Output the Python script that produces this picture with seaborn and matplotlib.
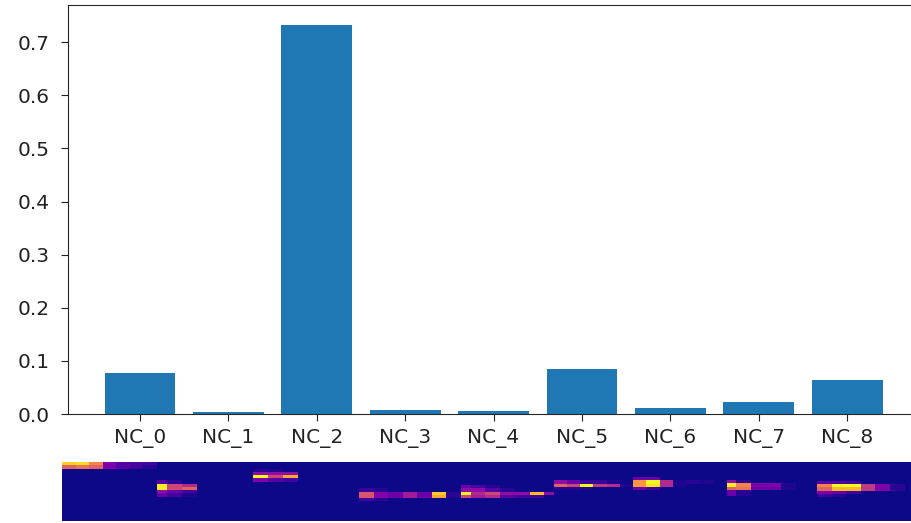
import numpy as np
import pandas as pd
import seaborn as sns
import matplotlib.pyplot as plt

W, H = 912, 523

components = ['NC_0', 'NC_1', 'NC_2', 'NC_3', 'NC_4', 'NC_5', 'NC_6', 'NC_7', 'NC_8']
weights = [0.077, 0.004, 0.732, 0.007, 0.005, 0.085, 0.012, 0.022, 0.064]
y_ticks = [0.0, 0.1, 0.2, 0.3, 0.4, 0.5, 0.6, 0.7]

# component spectrograms, {row: values per column}, everything else is zero
spec_0 = {0: [0.90, 0.93, 0.70, 0.25, 0.15, 0.12, 0.10],
          1: [0.60, 0.65, 0.60, 0.25, 0.15, 0.10, 0.05]}
spec_1 = {6: [0.15, 0.05],
          7: [0.97, 0.50, 0.40],
          8: [0.97, 0.50, 0.60],
          9: [0.30, 0.20, 0.10],
          10: [0.20, 0.10, 0.03]}
spec_2 = {2: [0.05, 0.03],
          3: [0.30, 0.30, 0.30],
          4: [1.00, 0.50, 0.80],
          5: [0.25, 0.15, 0.10]}
spec_3 = {8: [0.08, 0.05],
          9: [0.55, 0.25, 0.20, 0.35, 0.20, 0.90, 0.05],
          10: [0.55, 0.25, 0.20, 0.35, 0.20, 0.80, 0.05],
          11: [0.10, 0.05]}
spec_4 = {7: [0.20, 0.12, 0.05],
          8: [0.30, 0.30, 0.15, 0.05],
          9: [0.97, 0.40, 0.50, 0.30, 0.30, 0.85, 0.30],
          10: [0.50, 0.35, 0.40, 0.15, 0.10, 0.10]}
spec_5 = {6: [0.30, 0.20, 0.08, 0.08, 0.03],
          7: [0.60, 0.50, 1.00, 0.45, 0.40, 0.03],
          8: [0.05, 0.05, 0.03]}
spec_6 = {5: [0.20, 0.20],
          6: [0.75, 1.00, 0.40, 0.03, 0.05, 0.03],
          7: [0.75, 0.95, 0.40, 0.02],
          8: [0.20, 0.10]}
spec_7 = {6: [0.30, 0.05],
          7: [0.97, 0.70, 0.25, 0.25, 0.03],
          8: [0.60, 0.65, 0.20, 0.20, 0.03],
          9: [0.20, 0.05],
          10: [0.20, 0.05]}
spec_8 = {6: [0.15, 0.15, 0.10],
          7: [0.70, 1.00, 1.00, 0.45, 0.25, 0.05],
          8: [0.60, 0.85, 0.85, 0.45, 0.25, 0.05],
          9: [0.25, 0.20, 0.10],
          10: [0.10, 0.05]}
specs = [spec_0, spec_1, spec_2, spec_3, spec_4, spec_5, spec_6, spec_7, spec_8]
n_cols = 7
n_rows = 20

# where each panel sits in the strip and which part of its grid is visible
spec_edges = [62, 157, 253, 359, 461, 554, 633, 727, 817, 912]
spec_xlims = [(0, 7), (0.33, 6.73), (0, 7), (0, 7), (0.33, 6.67), (0, 6), (0, 7), (0.4, 6.4), (0, 6.5)]
spec_shift = [0, 0.4, 0, 0, 0, 0.4, 0.4, 0.5, 0.3]


def px_axes(fig, left, top, right, bottom):
    return fig.add_axes([left / W, 1 - bottom / H, (right - left) / W, (bottom - top) / H])


def to_grid(spec):
    grid = np.zeros((n_rows, n_cols))
    for row, vals in spec.items():
        grid[row, :len(vals)] = vals
    return grid


sns.set_style('ticks')
plt.rcParams['font.family'] = ['DejaVu Sans']

fig = plt.figure(figsize=(W / 100, H / 100), dpi=100)

ax = px_axes(fig, 68, 5, 912, 414)
df = pd.DataFrame({'component': components, 'weight': weights})
sns.barplot(data=df, x='component', y='weight', color='#1f77b4', saturation=1, width=0.8,
            linewidth=0, ax=ax)
ax.set_xlim(-0.814, 8.733)
ax.set_ylim(0, 0.77)
ax.set_yticks(y_ticks)
ax.set_yticklabels([f'{t:.1f}' for t in y_ticks])
ax.set_xlabel('')
ax.set_ylabel('')
ax.tick_params(labelsize=14.5, length=5, color='#222222', labelcolor='#222222')
ax.tick_params(axis='x', pad=6)
ax.tick_params(axis='y', pad=8)
ax.spines['right'].set_visible(False)

for i, spec in enumerate(specs):
    ax_s = px_axes(fig, spec_edges[i], 462, spec_edges[i + 1], 521)
    sns.heatmap(to_grid(spec), cmap='plasma', vmin=0, vmax=1, cbar=False,
                xticklabels=False, yticklabels=False, ax=ax_s)
    ax_s.set_facecolor('#0d0887')
    ax_s.set_xlim(*spec_xlims[i])
    ax_s.set_ylim(18 + spec_shift[i], spec_shift[i])

plt.savefig('out.png', dpi=100)
